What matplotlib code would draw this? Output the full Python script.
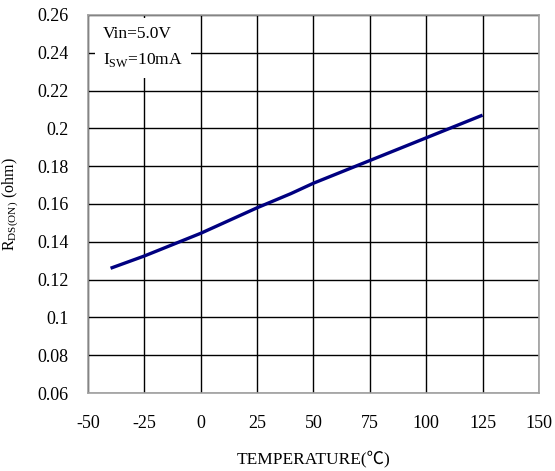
import matplotlib
matplotlib.use("Agg")
import matplotlib.pyplot as plt

# Rds(on) vs temperature, Vin=5.0V, Isw=10mA
temp_c = [-40, -25, 0, 25, 40, 50, 75, 100, 125]
rds_ohm = [0.126, 0.1325, 0.1445, 0.158, 0.1655, 0.171, 0.183, 0.195, 0.207]

x_ticks = [-50, -25, 0, 25, 50, 75, 100, 125, 150]
y_ticks = [0.06, 0.08, 0.1, 0.12, 0.14, 0.16, 0.18, 0.2, 0.22, 0.24, 0.26]
y_labels = ["0.06", "0.08", "0.1", "0.12", "0.14", "0.16", "0.18", "0.2", "0.22", "0.24", "0.26"]

plt.rcParams['font.family'] = ['Liberation Serif', 'DejaVu Serif']
plt.rcParams['mathtext.fontset'] = 'custom'
plt.rcParams['mathtext.rm'] = 'Liberation Serif'
plt.rcParams['axes.unicode_minus'] = False

fig = plt.figure(figsize=(5.55, 4.71), dpi=100)
ax = fig.add_axes([0.1586, 0.1656, 0.8124, 0.8026])

ax.plot(temp_c, rds_ohm, color='#000080', linewidth=2.4, solid_capstyle='butt', zorder=3)

ax.set_xlim(-50, 150)
ax.set_ylim(0.06, 0.26)
ax.set_xticks(x_ticks)
ax.set_yticks(y_ticks)
ax.set_yticklabels(y_labels)
ax.tick_params(length=0, labelsize=13, colors='black')
ax.tick_params(axis='x', pad=16)
ax.tick_params(axis='y', pad=14)
ax.grid(True, color='black', linewidth=1.0)
ax.set_axisbelow(True)
for s in ax.spines.values():
    s.set_color('#a0a0a0')
    s.set_linewidth(1.2)

ax.set_xlabel('TEMPERATURE(℃)', fontsize=12.5, labelpad=13,
              family=['Liberation Serif', 'Noto Sans CJK TC', 'DejaVu Serif'])
ax.set_ylabel(r'R$_{\mathrm{DS(ON)}}$ (ohm)', fontsize=11.5, labelpad=12)

ax.text(0.033, 0.972, 'Vin=5.0V\nI$_{\\mathrm{SW}}$=10mA', transform=ax.transAxes,
        fontsize=12.5, va='top', ha='left', linespacing=1.75,
        bbox=dict(facecolor='white', edgecolor='none', pad=6), zorder=4)

fig.savefig('out.png', dpi=100)
